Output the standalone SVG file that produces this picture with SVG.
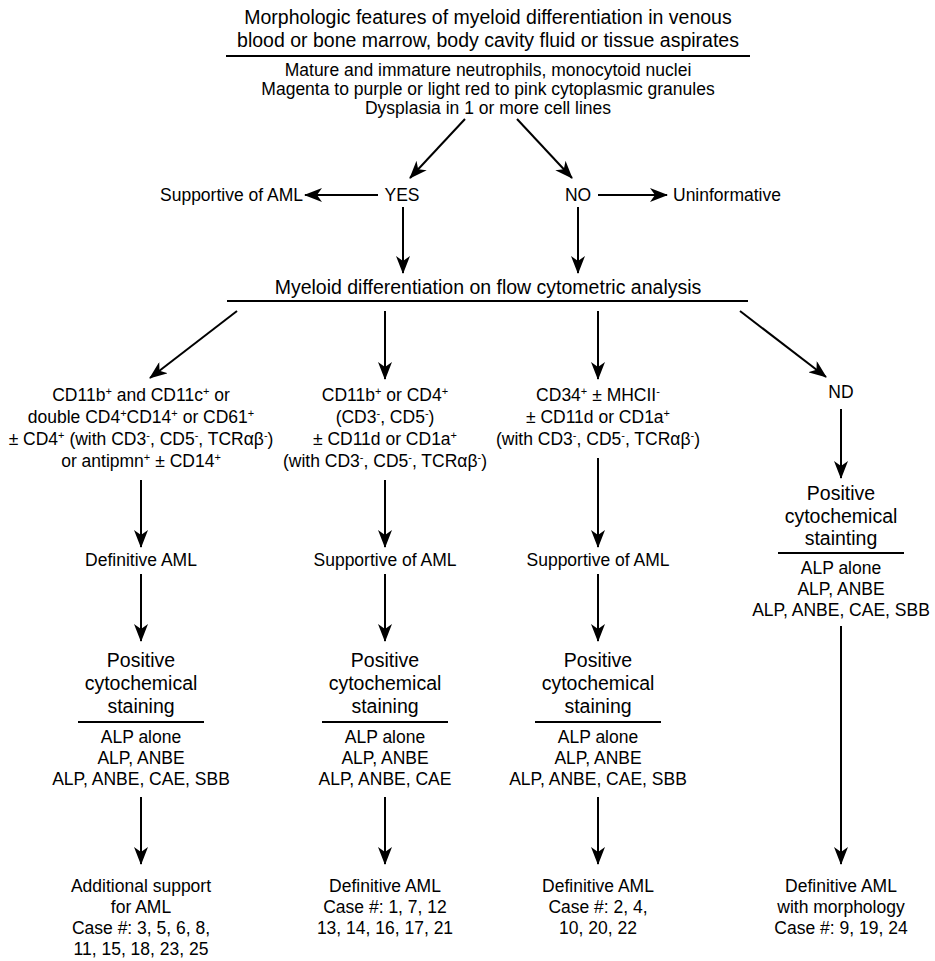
<svg xmlns="http://www.w3.org/2000/svg" width="935" height="961" viewBox="0 0 935 961">
<defs>
<style>
text{font-family:"Liberation Sans",Arial,sans-serif;fill:#000;text-anchor:middle;font-size:17.5px}
.big{font-size:19.5px}
.l{text-anchor:end}
.s{text-anchor:start}
.sup{font-size:11px}
.ln{stroke:#000;stroke-width:2;fill:none}
.ar{stroke:#000;stroke-width:2;fill:none;marker-end:url(#ah)}
</style>
<marker id="ah" viewBox="0 0 18 14" refX="17" refY="7" markerWidth="18" markerHeight="14" markerUnits="userSpaceOnUse" orient="auto">
<path d="M0,0 L18,7 L0,14 L5,7 Z" fill="#000"/>
</marker>
</defs>
<rect width="935" height="961" fill="#fff"/>

<g id="morphology">
<text class="big" x="488" y="24">Morphologic features of myeloid differentiation in venous</text>
<text class="big" x="488" y="47">blood or bone marrow, body cavity fluid or tissue aspirates</text>
<line class="ln" x1="226" y1="56" x2="750" y2="56"/>
<text x="488" y="76">Mature and immature neutrophils, monocytoid nuclei</text>
<text x="488" y="95">Magenta to purple or light red to pink cytoplasmic granules</text>
<text x="488" y="114">Dysplasia in 1 or more cell lines</text>
</g>

<g id="yes"><text x="402" y="201">YES</text></g>
<g id="no"><text x="578" y="201">NO</text></g>
<g id="supportive-top"><text class="l" x="303" y="201">Supportive of AML</text></g>
<g id="uninformative"><text class="s" x="673" y="201">Uninformative</text></g>

<g id="flow">
<text class="big" x="488" y="294">Myeloid differentiation on flow cytometric analysis</text>
<line class="ln" x1="227" y1="301" x2="748" y2="301"/>
</g>

<g id="col1-markers">
<text x="141" y="401">CD11b<tspan class="sup" dy="-6">+</tspan><tspan dy="6"> and CD11c</tspan><tspan class="sup" dy="-6">+</tspan><tspan dy="6"> or</tspan></text>
<text x="141" y="423">double CD4<tspan class="sup" dy="-6">+</tspan><tspan dy="6">CD14</tspan><tspan class="sup" dy="-6">+</tspan><tspan dy="6"> or CD61</tspan><tspan class="sup" dy="-6">+</tspan></text>
<text x="141" y="445">± CD4<tspan class="sup" dy="-6">+</tspan><tspan dy="6"> (with CD3</tspan><tspan class="sup" dy="-6">-</tspan><tspan dy="6">, CD5</tspan><tspan class="sup" dy="-6">-</tspan><tspan dy="6">, TCRαβ</tspan><tspan class="sup" dy="-6">-</tspan><tspan dy="6">)</tspan></text>
<text x="141" y="467">or antipmn<tspan class="sup" dy="-6">+</tspan><tspan dy="6"> ± CD14</tspan><tspan class="sup" dy="-6">+</tspan></text>
</g>

<g id="col2-markers">
<text x="385" y="401">CD11b<tspan class="sup" dy="-6">+</tspan><tspan dy="6"> or CD4</tspan><tspan class="sup" dy="-6">+</tspan></text>
<text x="385" y="423">(CD3<tspan class="sup" dy="-6">-</tspan><tspan dy="6">, CD5</tspan><tspan class="sup" dy="-6">-</tspan><tspan dy="6">)</tspan></text>
<text x="385" y="445">± CD11d or CD1a<tspan class="sup" dy="-6">+</tspan></text>
<text x="385" y="467">(with CD3<tspan class="sup" dy="-6">-</tspan><tspan dy="6">, CD5</tspan><tspan class="sup" dy="-6">-</tspan><tspan dy="6">, TCRαβ</tspan><tspan class="sup" dy="-6">-</tspan><tspan dy="6">)</tspan></text>
</g>

<g id="col3-markers">
<text x="598" y="401">CD34<tspan class="sup" dy="-6">+</tspan><tspan dy="6"> ± MHCII</tspan><tspan class="sup" dy="-6">-</tspan></text>
<text x="598" y="423">± CD11d or CD1a<tspan class="sup" dy="-6">+</tspan></text>
<text x="598" y="445">(with CD3<tspan class="sup" dy="-6">-</tspan><tspan dy="6">, CD5</tspan><tspan class="sup" dy="-6">-</tspan><tspan dy="6">, TCRαβ</tspan><tspan class="sup" dy="-6">-</tspan><tspan dy="6">)</tspan></text>
</g>

<g id="nd"><text x="841" y="398">ND</text></g>

<g id="col1-result"><text x="141" y="566">Definitive AML</text></g>
<g id="col2-result"><text x="385" y="566">Supportive of AML</text></g>
<g id="col3-result"><text x="598" y="566">Supportive of AML</text></g>

<g id="col1-stain">
<text class="big" x="141" y="667">Positive</text>
<text class="big" x="141" y="690">cytochemical</text>
<text class="big" x="141" y="713">staining</text>
<line class="ln" x1="78" y1="722" x2="204" y2="722"/>
<text x="141" y="743">ALP alone</text>
<text x="141" y="764">ALP, ANBE</text>
<text x="141" y="785">ALP, ANBE, CAE, SBB</text>
</g>

<g id="col2-stain">
<text class="big" x="385" y="667">Positive</text>
<text class="big" x="385" y="690">cytochemical</text>
<text class="big" x="385" y="713">staining</text>
<line class="ln" x1="322" y1="722" x2="448" y2="722"/>
<text x="385" y="743">ALP alone</text>
<text x="385" y="764">ALP, ANBE</text>
<text x="385" y="785">ALP, ANBE, CAE</text>
</g>

<g id="col3-stain">
<text class="big" x="598" y="667">Positive</text>
<text class="big" x="598" y="690">cytochemical</text>
<text class="big" x="598" y="713">staining</text>
<line class="ln" x1="535" y1="722" x2="661" y2="722"/>
<text x="598" y="743">ALP alone</text>
<text x="598" y="764">ALP, ANBE</text>
<text x="598" y="785">ALP, ANBE, CAE, SBB</text>
</g>

<g id="col4-stain">
<text class="big" x="841" y="500">Positive</text>
<text class="big" x="841" y="523">cytochemical</text>
<text class="big" x="841" y="545">stainting</text>
<line class="ln" x1="778" y1="553" x2="904" y2="553"/>
<text x="841" y="574">ALP alone</text>
<text x="841" y="595">ALP, ANBE</text>
<text x="841" y="616">ALP, ANBE, CAE, SBB</text>
</g>

<g id="col1-final">
<text x="141" y="892">Additional support</text>
<text x="141" y="913">for AML</text>
<text x="141" y="934">Case #: 3, 5, 6, 8,</text>
<text x="141" y="955">11, 15, 18, 23, 25</text>
</g>
<g id="col2-final">
<text x="385" y="892">Definitive AML</text>
<text x="385" y="913">Case #: 1, 7, 12</text>
<text x="385" y="934">13, 14, 16, 17, 21</text>
</g>
<g id="col3-final">
<text x="598" y="892">Definitive AML</text>
<text x="598" y="913">Case #: 2, 4,</text>
<text x="598" y="934">10, 20, 22</text>
</g>
<g id="col4-final">
<text x="841" y="892">Definitive AML</text>
<text x="841" y="913">with morphology</text>
<text x="841" y="934">Case #: 9, 19, 24</text>
</g>

<g id="connectors">
<line class="ar" x1="465" y1="119" x2="410" y2="178"/>
<line class="ar" x1="517" y1="119" x2="572" y2="178"/>
<line class="ar" x1="378" y1="195" x2="305" y2="195"/>
<line class="ar" x1="598" y1="195" x2="667" y2="195"/>
<line class="ar" x1="403" y1="207" x2="403" y2="273"/>
<line class="ar" x1="578" y1="207" x2="578" y2="273"/>
<line class="ar" x1="237" y1="311" x2="150" y2="378"/>
<line class="ar" x1="385" y1="311" x2="385" y2="379"/>
<line class="ar" x1="598" y1="311" x2="598" y2="379"/>
<line class="ar" x1="740" y1="311" x2="826" y2="377"/>
<line class="ar" x1="141" y1="480" x2="141" y2="547"/>
<line class="ar" x1="385" y1="480" x2="385" y2="547"/>
<line class="ar" x1="598" y1="458" x2="598" y2="547"/>
<line class="ar" x1="841" y1="409" x2="841" y2="478"/>
<line class="ar" x1="141" y1="574" x2="141" y2="641"/>
<line class="ar" x1="385" y1="574" x2="385" y2="641"/>
<line class="ar" x1="598" y1="574" x2="598" y2="641"/>
<line class="ar" x1="141" y1="797" x2="141" y2="864"/>
<line class="ar" x1="385" y1="797" x2="385" y2="864"/>
<line class="ar" x1="598" y1="797" x2="598" y2="864"/>
<line class="ar" x1="841" y1="626" x2="841" y2="864"/>
</g>
</svg>
